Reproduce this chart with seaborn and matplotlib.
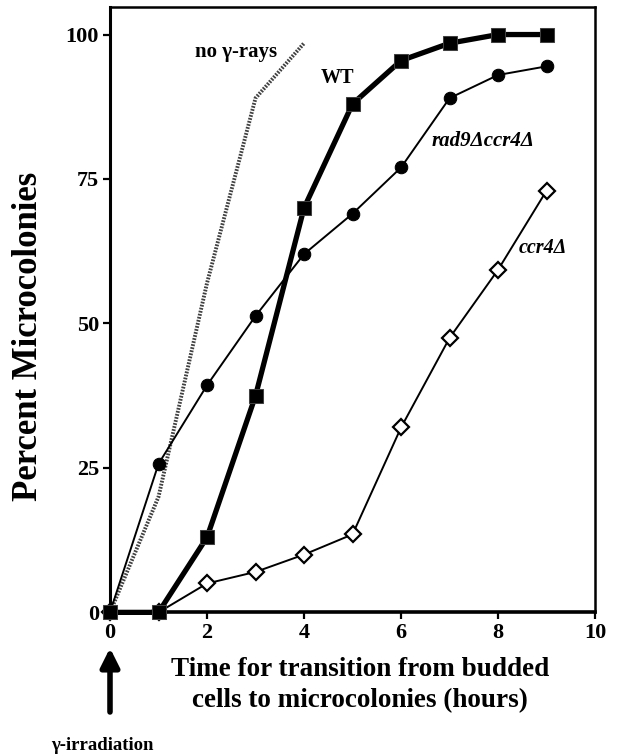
import matplotlib
matplotlib.use("Agg")
import matplotlib.pyplot as plt
import pandas as pd
import seaborn as sns

# values (hours vs percent microcolonies)
hours = [0, 1, 2, 3, 4, 5, 6, 7, 8, 9]
wt = [0, 0, 13, 37.5, 70, 88, 95.5, 98.5, 100, 100]
rad9_ccr4 = [0, 25.7, 39.3, 51.3, 62, 69, 77, 89, 93, 94.5]
ccr4 = [0, 0, 5, 7, 10, 13.5, 32, 47.5, 59.3, 73]
no_gamma_hours = [0, 1, 2, 3, 4]
no_gamma = [0, 20, 57, 89, 98.5]

sns.set_theme(style="ticks")
plt.rcParams["font.family"] = ["Liberation Serif", "DejaVu Serif"]
plt.rcParams["font.weight"] = "bold"
for k in ["text.color", "axes.labelcolor", "xtick.color", "ytick.color", "axes.edgecolor"]:
    plt.rcParams[k] = "black"

fig = plt.figure(figsize=(6.18, 7.56), dpi=100)
ax = fig.add_axes([0.178, 0.190, 0.785, 0.801])

sns.lineplot(x=no_gamma_hours, y=no_gamma, ax=ax, color="0.25", lw=2.8,
             zorder=2)
ax.lines[-1].set_dashes([0.45, 0.35])

sns.lineplot(x=hours, y=ccr4, ax=ax, color="black", lw=1.4, marker="D",
             markersize=8.5, markerfacecolor="white", markeredgecolor="black",
             markeredgewidth=1.6, zorder=3, clip_on=False)
sns.lineplot(x=hours, y=rad9_ccr4, ax=ax, color="black", lw=1.4, marker="o",
             markersize=9, markerfacecolor="black", markeredgecolor="black",
             zorder=4, clip_on=False)
sns.lineplot(x=hours, y=wt, ax=ax, color="black", lw=3.8, marker="s",
             markersize=10.5, markerfacecolor="black", markeredgecolor="0.25",
             zorder=5, clip_on=False)

ax.set_xlim(0, 10)
ax.set_ylim(0, 104.8)
ax.set_xticks([0, 2, 4, 6, 8, 10])
ax.set_yticks([0, 25, 50, 75, 100])
ax.tick_params(labelsize=16, width=1.6, length=5, pad=3)
for lab in ax.get_xticklabels() + ax.get_yticklabels():
    lab.set_fontweight("bold")
for sp in ax.spines.values():
    sp.set_visible(True)
    sp.set_linewidth(1.8)
ax.spines["bottom"].set_linewidth(2.6)
ax.spines["left"].set_linewidth(2.2)

ax.set_ylabel("Percent Microcolonies", fontsize=25, fontweight="bold")
ax.yaxis.set_label_coords(-0.169, 0.456, transform=ax.transAxes)
ax.yaxis.label.set_va("center")
ax.set_xlabel("Time for transition from budded\ncells to microcolonies (hours)",
              fontsize=19.5, fontweight="bold", linespacing=1.3)
ax.xaxis.set_label_coords(0.515, -0.074, transform=ax.transAxes)
ax.xaxis.label.set_va("top")

ax.text(2.6, 97, "no γ-rays", fontsize=15, fontweight="bold", ha="center", va="center")
ax.text(4.68, 92.5, "WT", fontsize=14.5, fontweight="bold", ha="center", va="center")
ax.text(7.69, 81.5, "rad9Δccr4Δ", fontsize=15, fontweight="bold", style="italic",
        ha="center", va="center")
ax.text(8.93, 63, "ccr4Δ", fontsize=14.5, fontweight="bold", style="italic",
        ha="center", va="center")

ax.annotate("", xy=(110 / 618, 1 - 648 / 756), xytext=(110 / 618, 1 - 712 / 756),
            xycoords="figure fraction", textcoords="figure fraction",
            arrowprops=dict(arrowstyle="-|>", lw=4, mutation_scale=28, color="black",
                            shrinkA=0, shrinkB=0))
fig.text(102 / 618, 1 - 745 / 756, "γ-irradiation", fontsize=13.5, fontweight="bold",
         ha="center", va="center")

fig.savefig("out.png", dpi=100)
